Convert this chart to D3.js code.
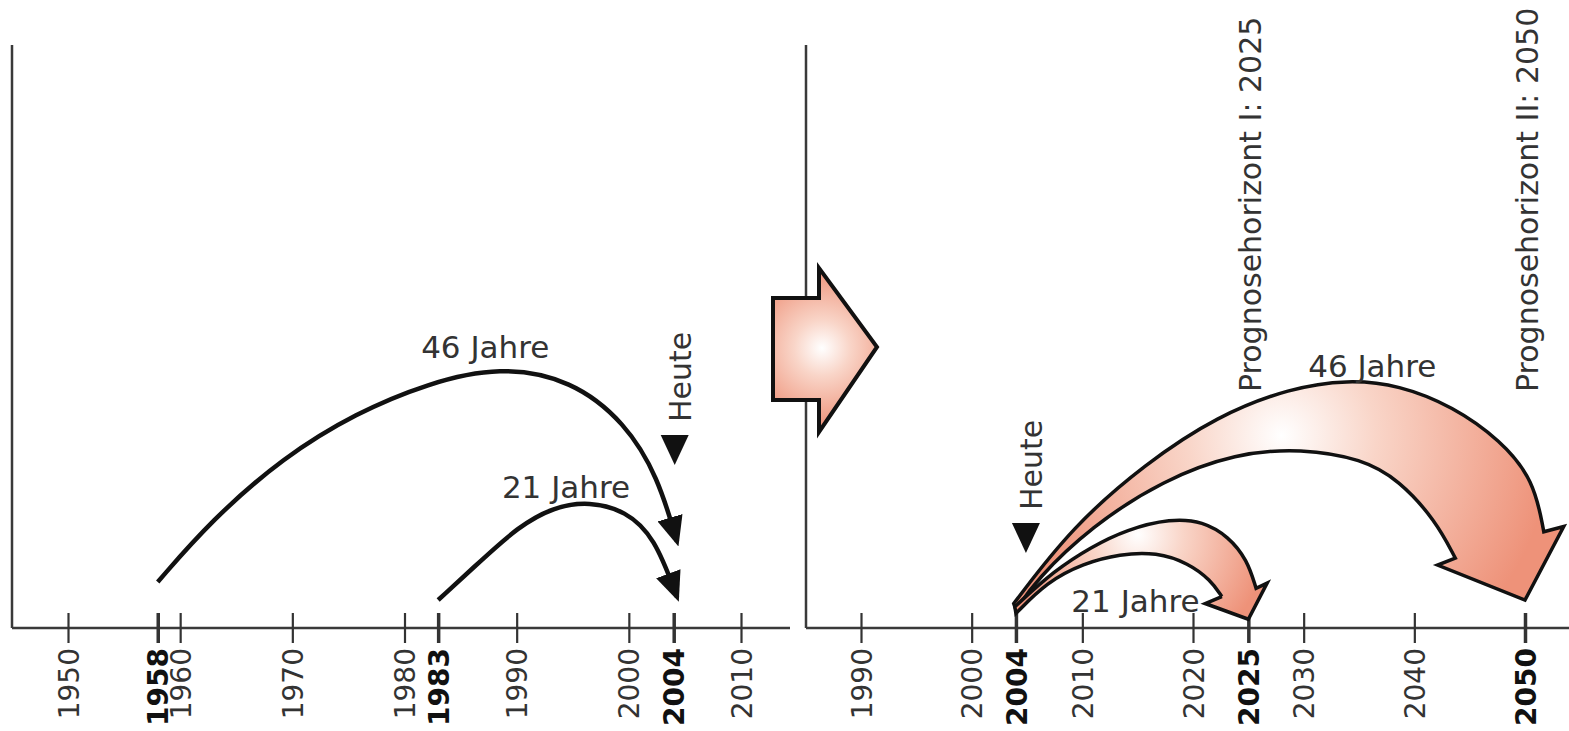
<!DOCTYPE html>
<html>
<head>
<meta charset="utf-8">
<script src="https://cdn.jsdelivr.net/npm/d3@7"></script>
<style>
  body { margin: 0; background: #fff; }
  text { font-family: "DejaVu Sans", sans-serif; fill: #333; }
</style>
</head>
<body>
<div id="chart"></div>
<script>
// ---- data (years on x, arc height in arbitrary units 0..100 on y) ----
const leftTicks = [1950, 1958, 1960, 1970, 1980, 1983, 1990, 2000, 2004, 2010];
const leftBold = [1958, 1983, 2004];
const rightTicks = [1990, 2000, 2004, 2010, 2020, 2025, 2030, 2040, 2050];
const rightBold = [2004, 2025, 2050];

// left panel: retrospective arcs
const arc46Left = [[1958, 7.9], [1962.8, 18.5], [1969.2, 29.3], [1975.7, 36.9], [1982.1, 42.0],
  [1988.5, 44.9], [1994.9, 42.6], [1999.7, 35.2], [2002.6, 25.9], [2004.3, 14.8]];
const arc21Left = [[1983, 4.8], [1986.9, 11.7], [1990.1, 17.3], [1993.3, 20.8], [1996.5, 21.7],
  [1999.7, 20.1], [2002.3, 15.6], [2004.3, 5.3]];

// right panel: forecast ribbons (outer edge, head, inner edge)
const rib46Outer = [[2003.8, 4.2], [2009.1, 17.4], [2015.7, 28.2], [2022.2, 36.4], [2028.8, 41.2],
  [2034.0, 42.6], [2038.6, 41.7], [2043.5, 38.0], [2047.8, 32.2], [2050.8, 25.4], [2051.7, 16.5]];
const rib46Head = [[2053.5, 17.4], [2050, 4.8], [2042.1, 10.8], [2043.7, 12.0]];
const rib46Inner = [[2043.7, 12.0], [2041.9, 18.5], [2038.6, 25.4], [2035.3, 29.0], [2029.8, 30.8],
  [2023.9, 30.0], [2017.3, 25.4], [2010.8, 17.4], [2005.8, 8.2], [2004.0, 3.1]];

const rib21Outer = [[2003.9, 3.65], [2007.5, 9.9], [2010.8, 13.9], [2014.0, 16.9], [2018.0, 18.8],
  [2020.9, 18.3], [2023.2, 15.7], [2024.9, 11.7], [2025.7, 6.8]];
const rib21Head = [[2026.7, 7.7], [2025.0, 1.5], [2021.1, 4.2], [2022.6, 5.4]];
const rib21Inner = [[2022.6, 5.4], [2021.6, 8.2], [2019.6, 11.1], [2016.7, 13.0], [2013.4, 12.7],
  [2010.1, 11.1], [2006.8, 7.9], [2004.0, 2.5]];

// labels: [year, height, text]
const leftLabels = [[1987.2, 46.3, '46 Jahre'], [1994.4, 22.3, '21 Jahre']];
const rightLabels = [[2036.2, 43.0, '46 Jahre'], [2014.8, 2.7, '21 Jahre']];
const horizons = [[2025, 'Prognosehorizont I: 2025'], [2050, 'Prognosehorizont II: 2050']];

// ---- layout ----
const W = 1569, H = 731;
const svg = d3.select('#chart').append('svg')
  .attr('width', W).attr('height', H);

const xLeft = d3.scaleLinear().domain([1950, 2010]).range([68, 741]);
const xRight = d3.scaleLinear().domain([1990, 2050]).range([861, 1525]);
const y = d3.scaleLinear().domain([0, 100]).range([628, 45]);

const defs = svg.append('defs');

defs.append('marker')
  .attr('id', 'head')
  .attr('markerUnits', 'userSpaceOnUse')
  .attr('viewBox', '0 0 30 26')
  .attr('markerWidth', 30).attr('markerHeight', 26)
  .attr('refX', 25).attr('refY', 13)
  .attr('orient', 'auto')
  .append('path').attr('d', 'M0,0 L30,13 L0,26 Z').attr('fill', '#111');

function radial(id, cx, cy, r) {
  const g = defs.append('radialGradient').attr('id', id)
    .attr('gradientUnits', 'userSpaceOnUse')
    .attr('cx', cx).attr('cy', cy).attr('r', r);
  g.append('stop').attr('offset', '0%').attr('stop-color', '#ffffff');
  g.append('stop').attr('offset', '35%').attr('stop-color', '#f9d5c8');
  g.append('stop').attr('offset', '100%').attr('stop-color', '#ee9279');
}
radial('gBig', xRight(2028), y(33), 270);
radial('gSmall', xRight(2015), y(16), 130);
radial('gMid', 49, 80, 80);   // in the arrow's local coordinates

// frame lines
const frame = svg.append('g').attr('stroke', '#3a3a3a').attr('stroke-width', 2.5);
frame.append('line').attr('x1', 12).attr('x2', 12).attr('y1', y(100)).attr('y2', y(0));
frame.append('line').attr('x1', 12).attr('x2', 790).attr('y1', y(0)).attr('y2', y(0));
frame.append('line').attr('x1', 806).attr('x2', 806).attr('y1', y(100)).attr('y2', y(0));
frame.append('line').attr('x1', 806).attr('x2', W).attr('y1', y(0)).attr('y2', y(0));

function drawAxis(scale, ticks, bold) {
  const axis = d3.axisBottom(scale).tickValues(ticks).tickSize(15).tickFormat(d3.format('d'));
  const a = svg.append('g')
    .attr('transform', `translate(0,${y(0)})`)
    .call(axis);
  a.select('.domain').remove();
  a.selectAll('.tick line')
    .attr('y1', -15).attr('y2', 15)
    .attr('stroke', '#333')
    .attr('stroke-width', d => bold.includes(d) ? 3.5 : 2.2);
  a.selectAll('.tick text')
    .attr('transform', 'rotate(-90)')
    .attr('x', -20).attr('y', 0).attr('dy', '0.36em')
    .attr('text-anchor', 'end')
    .style('font-size', '28px')
    .style('fill', d => bold.includes(d) ? '#111' : '#333')
    .style('font-weight', d => bold.includes(d) ? 'bold' : 'normal');
}
drawAxis(xLeft, leftTicks, leftBold);
drawAxis(xRight, rightTicks, rightBold);

// left arcs
const lineL = d3.line().x(d => xLeft(d[0])).y(d => y(d[1])).curve(d3.curveBasis);
svg.append('g').selectAll('path')
  .data([arc46Left, arc21Left])
  .join('path')
  .attr('d', lineL)
  .attr('fill', 'none')
  .attr('stroke', '#111')
  .attr('stroke-width', 4.5)
  .attr('marker-end', 'url(#head)');

// right ribbons
const lineR = d3.line().x(d => xRight(d[0])).y(d => y(d[1])).curve(d3.curveBasis);
function ribbon(outer, head, inner) {
  const h = head.map(d => 'L' + xRight(d[0]) + ',' + y(d[1])).join('');
  return lineR(outer) + h + lineR(inner).replace(/^M/, 'L') + 'Z';
}
const ribbons = [
  { outer: rib46Outer, head: rib46Head, inner: rib46Inner, fill: 'url(#gBig)' },
  { outer: rib21Outer, head: rib21Head, inner: rib21Inner, fill: 'url(#gSmall)' }
];
svg.append('g').selectAll('path')
  .data(ribbons)
  .join('path')
  .attr('d', d => ribbon(d.outer, d.head, d.inner))
  .attr('fill', d => d.fill)
  .attr('stroke', '#111')
  .attr('stroke-width', 3.5)
  .attr('stroke-linejoin', 'miter');

// transition arrow between panels
svg.append('path')
  .attr('transform', 'translate(773,268)')
  .attr('d', 'M0,30 L46,30 L46,0 L104,79 L46,164 L46,132 L0,132 Z')
  .attr('fill', 'url(#gMid)')
  .attr('stroke', '#111')
  .attr('stroke-width', 4);

// labels
svg.append('g').selectAll('text')
  .data(leftLabels)
  .join('text')
  .attr('x', d => xLeft(d[0])).attr('y', d => y(d[1]))
  .attr('text-anchor', 'middle')
  .style('font-size', '31px')
  .text(d => d[2]);
svg.append('g').selectAll('text')
  .data(rightLabels)
  .join('text')
  .attr('x', d => xRight(d[0])).attr('y', d => y(d[1]))
  .attr('text-anchor', 'middle')
  .style('font-size', '31px')
  .text(d => d[2]);

svg.append('g').selectAll('text')
  .data(horizons)
  .join('text')
  .attr('transform', d => `translate(${xRight(d[0]) + 2},392) rotate(-90)`)
  .attr('dy', '0.36em')
  .style('font-size', '30px')
  .text(d => d[1]);

// "Heute" markers
function heute(x, bottom) {
  svg.append('text')
    .attr('transform', `translate(${x + 5},${bottom}) rotate(-90)`)
    .attr('dy', '0.36em')
    .style('font-size', '30px')
    .text('Heute');
  svg.append('path')
    .attr('d', `M${x - 14},${bottom + 13} L${x + 14},${bottom + 13} L${x},${bottom + 43} Z`)
    .attr('fill', '#111');
}
heute(xLeft(2004) + 1, 422);
heute(xRight(2004) + 10, 510);
</script>
</body>
</html>
